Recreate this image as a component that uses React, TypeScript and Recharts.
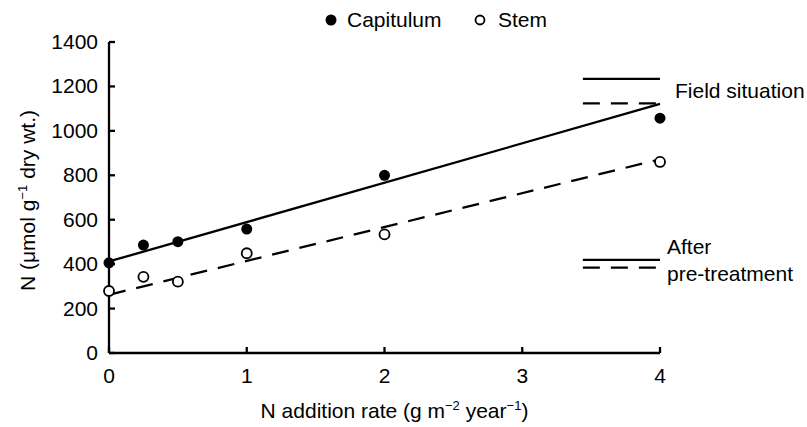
import {
    ComposedChart, Scatter, Line, XAxis, YAxis, ReferenceLine, Label
} from "recharts";

// measured points
const capitulumPoints = [
    { x: 0, y: 406 },
    { x: 0.25, y: 486 },
    { x: 0.5, y: 501 },
    { x: 1, y: 558 },
    { x: 2, y: 800 },
    { x: 4, y: 1057 }
];
const stemPoints = [
    { x: 0, y: 279 },
    { x: 0.25, y: 343 },
    { x: 0.5, y: 321 },
    { x: 1, y: 449 },
    { x: 2, y: 534 },
    { x: 4, y: 860 }
];

// regression lines (end points)
const capitulumFit = [{ x: 0, y: 412 }, { x: 4, y: 1121 }];
const stemFit = [{ x: 0, y: 262 }, { x: 4, y: 872 }];

// reference levels shown on the right
const fieldSituation = { capitulum: 1234, stem: 1124 };
const afterPretreatment = { capitulum: 419, stem: 384 };

const xTicks = [0, 1, 2, 3, 4];
const yTicks = [0, 200, 400, 600, 800, 1000, 1200, 1400];

const FONT = "'Liberation Sans', Arial, Helvetica, sans-serif";
const DASH = "17 11";
const LW = 2.3;
const REF_FROM = 3.44;
const REF_TO = 4;

const YTick = (props: any) => {
    const { x, y, payload } = props;
    return (
        <g>
            <line x1={x} y1={y} x2={x + 6} y2={y} stroke="#000" strokeWidth={LW} />
            <text x={x - 11} y={y} dy="0.33em" textAnchor="end" fontSize={21} fontFamily={FONT} fill="#000">
                {payload.value}
            </text>
        </g>
    );
};

const XTick = (props: any) => {
    const { x, y, payload } = props;
    return (
        <g>
            <line x1={x} y1={y} x2={x} y2={y - 6} stroke="#000" strokeWidth={LW} />
            <text x={x} y={y + 30} textAnchor="middle" fontSize={21} fontFamily={FONT} fill="#000">
                {payload.value}
            </text>
        </g>
    );
};

const YLabel = (props: any) => {
    const { x, y, height } = props.viewBox;
    const cx = x + 28;
    const cy = y + height / 2 + 3;
    return (
        <text x={cx} y={cy} transform={`rotate(-90 ${cx} ${cy})`} dy="0.35em" textAnchor="middle"
            fontSize={21} fontFamily={FONT} fill="#000">
            N (μmol g<tspan dy={-8} fontSize={13}>−1</tspan><tspan dy={8}> dry wt.)</tspan>
        </text>
    );
};

const XLabel = (props: any) => {
    const { x, y, width } = props.viewBox;
    return (
        <text x={x + width / 2 + 10} y={y + 65} textAnchor="middle" fontSize={21} fontFamily={FONT} fill="#000">
            N addition rate (g m<tspan dy={-8} fontSize={13}>−2</tspan>
            <tspan dy={8}> year</tspan><tspan dy={-8} fontSize={13}>−1</tspan><tspan dy={8}>)</tspan>
        </text>
    );
};

const FieldLabel = (props: any) => {
    const { x, y, width } = props.viewBox;
    return (
        <text x={x + width + 15} y={y + 12} dy="0.35em" fontSize={21} fontFamily={FONT} fill="#000">
            Field situation
        </text>
    );
};

const AfterLabel = (props: any) => {
    const { x, y, width } = props.viewBox;
    return (
        <text fontSize={21} fontFamily={FONT} fill="#000">
            <tspan x={x + width + 7} y={y - 6}>After</tspan>
            <tspan x={x + width + 7} y={y + 21}>pre-treatment</tspan>
        </text>
    );
};

const FilledDot = (props: any) => (
    <circle cx={props.cx} cy={props.cy} r={5.5} fill="#000" />
);
const OpenDot = (props: any) => (
    <circle cx={props.cx} cy={props.cy} r={5} fill="#fff" stroke="#000" strokeWidth={1.8} />
);

const App = () => {
    return (
        <div style={{ position: "absolute", left: 0, top: 0, width: 807, height: 427, background: "#fff" }}>
            {/* legend */}
            <svg width={807} height={40} style={{ position: "absolute", left: 0, top: 0 }}>
                <circle cx={331} cy={20} r={5.5} fill="#000" />
                <text x={347} y={27} fontSize={21} fontFamily={FONT} fill="#000">Capitulum</text>
                <circle cx={480} cy={20} r={4.5} fill="#fff" stroke="#000" strokeWidth={1.8} />
                <text x={498} y={27} fontSize={21} fontFamily={FONT} fill="#000">Stem</text>
            </svg>
            <ComposedChart width={807} height={427} margin={{ top: 42, right: 147, bottom: 0, left: 0 }}>
                <XAxis
                    type="number"
                    dataKey="x"
                    domain={[0, 4]}
                    ticks={xTicks}
                    height={74}
                    tickSize={0}
                    tickMargin={0}
                    tickLine={false}
                    tick={<XTick />}
                    axisLine={{ stroke: "#000", strokeWidth: LW }}
                >
                    <Label content={<XLabel />} />
                </XAxis>
                <YAxis
                    type="number"
                    dataKey="y"
                    domain={[0, 1400]}
                    ticks={yTicks}
                    width={109}
                    tickSize={0}
                    tickMargin={0}
                    tickLine={false}
                    tick={<YTick />}
                    axisLine={{ stroke: "#000", strokeWidth: LW }}
                >
                    <Label content={<YLabel />} />
                </YAxis>

                <Line data={capitulumFit} dataKey="y" type="linear" stroke="#000" strokeWidth={LW}
                    dot={false} activeDot={false} isAnimationActive={false} />
                <Line data={stemFit} dataKey="y" type="linear" stroke="#000" strokeWidth={LW}
                    strokeDasharray={DASH} dot={false} activeDot={false} isAnimationActive={false} />

                <ReferenceLine
                    segment={[{ x: REF_FROM, y: fieldSituation.capitulum }, { x: REF_TO, y: fieldSituation.capitulum }]}
                    stroke="#000" strokeWidth={LW}
                    label={<FieldLabel />}
                />
                <ReferenceLine
                    segment={[{ x: REF_FROM, y: fieldSituation.stem }, { x: REF_TO, y: fieldSituation.stem }]}
                    stroke="#000" strokeWidth={LW} strokeDasharray={DASH}
                />
                <ReferenceLine
                    segment={[{ x: REF_FROM, y: afterPretreatment.capitulum }, { x: REF_TO, y: afterPretreatment.capitulum }]}
                    stroke="#000" strokeWidth={LW}
                    label={<AfterLabel />}
                />
                <ReferenceLine
                    segment={[{ x: REF_FROM, y: afterPretreatment.stem }, { x: REF_TO, y: afterPretreatment.stem }]}
                    stroke="#000" strokeWidth={LW} strokeDasharray={DASH}
                />

                <Scatter name="Capitulum" data={capitulumPoints} shape={<FilledDot />} isAnimationActive={false} />
                <Scatter name="Stem" data={stemPoints} shape={<OpenDot />} isAnimationActive={false} />
            </ComposedChart>
        </div>
    );
};

export default App;
